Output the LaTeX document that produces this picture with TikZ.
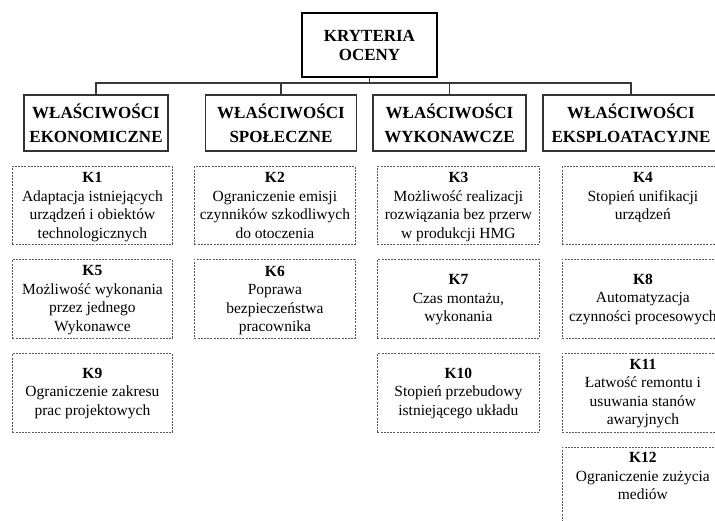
\documentclass[tikz,border=0pt]{standalone}
\usepackage{fontspec}
\setmainfont{Liberation Serif}
\newcommand{\ktext}[5]{% width, height, first baseline, label, body
  \parbox[t][#2][t]{#1}{\centering\fontsize{15.5}{18.5}\selectfont\rule{0pt}{#3}\textbf{#4}\\#5}}
\begin{document}
\begin{tikzpicture}[x=1pt,y=-1pt,
  rootbox/.style={draw=black, line width=2.6pt, inner sep=0pt, align=center,
    minimum width=135pt, minimum height=64pt, font=\fontsize{17}{19}\selectfont\bfseries},
  catbox/.style={draw=black!80, line width=1.4pt, inner sep=0pt, align=center,
    minimum height=56pt, font=\fontsize{17}{24}\selectfont\bfseries},
  critbox/.style={draw=black!65, line width=0.8pt, dash pattern=on 2pt off 1.2pt,
    inner sep=0pt, anchor=north west},
  conn/.style={draw=black!78, line width=1.4pt}]
\useasboundingbox (0,0) rectangle (715,520);
\clip (0,0) rectangle (715,520);
\fill[white] (0,0) rectangle (715,520);

\node[rootbox] (root) at (369.5,45) {KRYTERIA\\OCENY};

\node[catbox, minimum width=144pt] (cat1) at (96,123) {WŁAŚCIWOŚCI\\EKONOMICZNE};
\node[catbox, minimum width=151pt] (cat2) at (281,123) {WŁAŚCIWOŚCI\\SPOŁECZNE};
\node[catbox, minimum width=153pt] (cat3) at (449.5,123) {WŁAŚCIWOŚCI\\WYKONAWCZE};
\node[catbox, minimum width=176pt] (cat4) at (631,123) {WŁAŚCIWOŚCI\\EKSPLOATACYJNE};

\coordinate (bus) at (369.5,83);
\draw[conn] (root.south) -- (bus);
\draw[conn] (cat1.north) |- (bus) -| (cat4.north);
\draw[conn] (cat2.north) |- (bus);
\draw[conn] (cat3.north) |- (bus);

% row 1
\node[critbox] (k1) at (12,166) {\ktext{160pt}{78pt}{16.5pt}{K1}{Adaptacja istniejących\\urządzeń i obiektów\\technologicznych}};
\node[critbox] (k2) at (194,166) {\ktext{161pt}{78pt}{16.5pt}{K2}{Ograniczenie emisji\\czynników szkodliwych\\do otoczenia}};
\node[critbox] (k3) at (377,166) {\ktext{162pt}{78pt}{16.5pt}{K3}{Możliwość realizacji\\rozwiązania bez przerw\\w produkcji HMG}};
\node[critbox] (k4) at (562,166) {\ktext{161pt}{78pt}{16.5pt}{K4}{Stopień unifikacji\\urządzeń}};
% row 2
\node[critbox] (k5) at (12,259) {\ktext{160pt}{79pt}{16.5pt}{K5}{Możliwość wykonania\\przez jednego\\Wykonawce}};
\node[critbox] (k6) at (194,259) {\ktext{161pt}{79pt}{17pt}{K6}{Poprawa\\bezpieczeństwa\\pracownika}};
\node[critbox] (k7) at (377,259) {\ktext{162pt}{79pt}{25.5pt}{K7}{Czas montażu,\\wykonania}};
\node[critbox] (k8) at (562,259) {\ktext{161pt}{79pt}{25pt}{K8}{Automatyzacja\\czynności procesowych}};
% row 3
\node[critbox] (k9) at (12,353) {\ktext{160pt}{79pt}{25pt}{K9}{Ograniczenie zakresu\\prac projektowych}};
\node[critbox] (k10) at (377,353) {\ktext{162pt}{79pt}{25pt}{K10}{Stopień przebudowy\\istniejącego układu}};
\node[critbox] (k11) at (562,353) {\ktext{161pt}{79pt}{16pt}{K11}{Łatwość remontu i\\usuwania stanów\\awaryjnych}};
% row 4
\node[critbox] (k12) at (562,447) {\ktext{161pt}{79pt}{15.5pt}{K12}{Ograniczenie zużycia\\mediów}};
\end{tikzpicture}
\end{document}
